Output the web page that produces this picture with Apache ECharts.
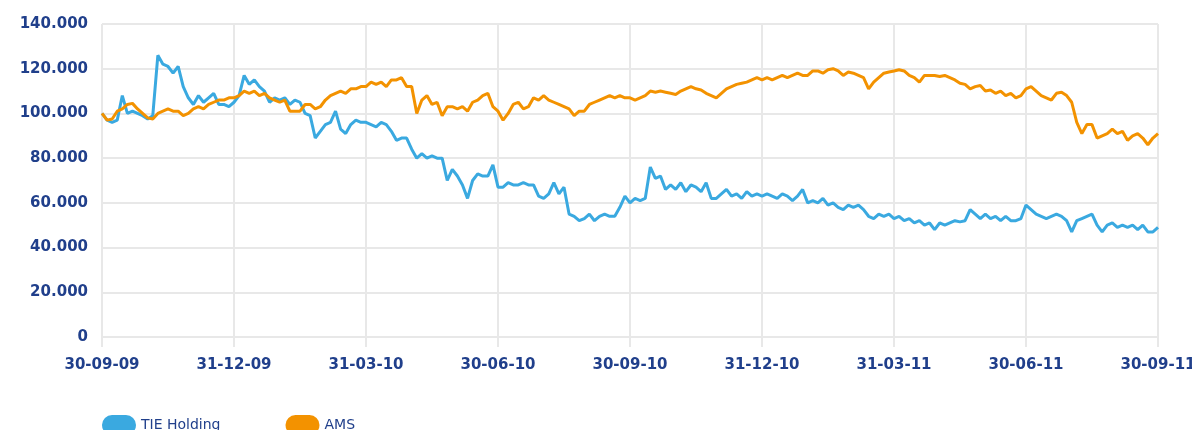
<!DOCTYPE html>
<html>
<head>
<meta charset="utf-8">
<script src="https://cdn.jsdelivr.net/npm/echarts@6/dist/echarts.min.js"></script>
<style>
  html, body { margin: 0; padding: 0; background: #fff; }
  #chart { width: 1192px; height: 430px; }
</style>
</head>
<body>
<div id="chart"></div>
<script>
// quarter tick labels, one every 26 half-week steps
var tickLabels = ['30-09-09', '31-12-09', '31-03-10', '30-06-10', '30-09-10', '31-12-10', '31-03-11', '30-06-11', '30-09-11'];
var seriesNames = ['TIE Holding', 'AMS'];

// values in thousands, one per half week
var tieValues = [
  100, 97, 96, 97, 108, 100, 101, 100, 99, 97.5, 99, 126, 122, 121, 118, 121, 112, 107, 104, 108,
  105, 107, 109, 104, 104, 103, 105, 108, 117, 113, 115, 112, 110, 105, 107, 106, 107, 104, 106, 105,
  100, 99, 89, 92, 95, 96, 101, 93, 91, 95, 97, 96, 96, 95, 94, 96, 95, 92, 88, 89,
  89, 84, 80, 82, 80, 81, 80, 80, 70, 75, 72, 68, 62, 70, 73, 72, 72, 77, 67, 67,
  69, 68, 68, 69, 68, 68, 63, 62, 64, 69, 64, 67, 55, 54, 52, 53, 55, 52, 54, 55,
  54, 54, 58, 63, 60, 62, 61, 62, 76, 71, 72, 66, 68, 66, 69, 65, 68, 67, 65, 69,
  62, 62, 64, 66, 63, 64, 62, 65, 63, 64, 63, 64, 63, 62, 64, 63, 61, 63, 66, 60,
  61, 60, 62, 59, 60, 58, 57, 59, 58, 59, 57, 54, 53, 55, 54, 55, 53, 54, 52, 53,
  51, 52, 50, 51, 48, 51, 50, 51, 52, 51.5, 52, 57, 55, 53, 55, 53, 54, 52, 54, 52,
  52, 53, 59, 57, 55, 54, 53, 54, 55, 54, 52, 47, 52, 53, 54, 55, 50, 47, 50, 51,
  49, 50, 49, 50, 48, 50, 47, 47, 49
];
var amsValues = [
  100, 97, 97.5, 101, 102, 104, 104.5, 102, 100, 98, 97.5, 100, 101, 102, 101, 101, 99, 100, 102, 103,
  102, 104, 105, 106, 106, 107, 107, 108, 110, 109, 110, 108, 109, 107, 106, 105, 106, 101, 101, 101,
  104, 104, 102, 103, 106, 108, 109, 110, 109, 111, 111, 112, 112, 114, 113, 114, 112, 115, 115, 116,
  112, 112, 100, 106, 108, 104, 105, 99, 103, 103, 102, 103, 101, 105, 106, 108, 109, 103, 101, 97,
  100, 104, 105, 102, 103, 107, 106, 108, 106, 105, 104, 103, 102, 99, 101, 101, 104, 105, 106, 107,
  108, 107, 108, 107, 107, 106, 107, 108, 110, 109.5, 110, 109.5, 109, 108.5, 110, 111, 112, 111, 110.5, 109,
  108, 107, 109, 111, 112, 113, 113.5, 114, 115, 116, 115, 116, 115, 116, 117, 116, 117, 118, 117, 117,
  119, 119, 118, 119.5, 120, 119, 117, 118.5, 118, 117, 116, 111, 114, 116, 118, 118.5, 119, 119.5, 119, 117,
  116, 114, 117, 117, 117, 116.5, 117, 116, 115, 113.5, 113, 111, 112, 112.5, 110, 110.5, 109, 110, 108, 109,
  107, 108, 111, 112, 110, 108, 107, 106, 109, 109.5, 108, 105, 96, 91, 95, 95, 89, 90, 91, 93,
  91, 92, 88, 90, 91, 89, 86, 89, 91
];

var steps = [];
for (var i = 0; i < tieValues.length; i++) {
  steps.push(String(i));
}

function formatThousands(v) {
  return String(v).replace(/\B(?=(\d{3})+(?!\d))/g, '.');
}

var axisColor = '#203f8b';
var gridColor = '#e8e8e8';

var myChart = echarts.init(document.getElementById('chart'));

var option = {
  animation: false,
  color: ['#3aa9e0', '#f39200'],
  grid: {
    left: 102,
    right: 34,
    top: 24,
    bottom: 93,
    containLabel: false,
    outerBoundsMode: 'none'
  },
  legend: {
    data: seriesNames,
    left: 97,
    top: 410,
    itemWidth: 34,
    itemHeight: 20,
    itemGap: 65,
    icon: 'path://M10,0 H24 A10,10 0 0 1 24,20 H10 A10,10 0 0 1 10,0 Z',
    textStyle: {
      color: axisColor,
      fontFamily: 'DejaVu Sans',
      fontSize: 14
    }
  },
  xAxis: {
    type: 'category',
    boundaryGap: false,
    data: steps,
    axisLine: { show: true, lineStyle: { color: gridColor, width: 2 } },
    axisTick: { show: true, interval: 25, length: 10, lineStyle: { color: gridColor, width: 2 } },
    splitLine: { show: true, interval: 25, lineStyle: { color: gridColor, width: 2 } },
    axisLabel: {
      interval: 25,
      margin: 21,
      color: axisColor,
      fontFamily: 'DejaVu Sans',
      fontWeight: 'bold',
      fontSize: 15,
      formatter: function (v, idx) {
        return tickLabels[Math.round(idx / 26)];
      }
    }
  },
  yAxis: {
    type: 'value',
    min: 0,
    max: 140000,
    interval: 20000,
    axisLine: { show: false },
    axisTick: { show: false },
    splitLine: { lineStyle: { color: gridColor, width: 2 } },
    axisLabel: {
      margin: 14,
      color: axisColor,
      fontFamily: 'DejaVu Sans',
      fontWeight: 'bold',
      fontSize: 15,
      formatter: formatThousands
    }
  },
  series: [
    {
      name: seriesNames[0],
      type: 'line',
      showSymbol: false,
      lineStyle: { width: 3 },
      data: tieValues.map(function (v) { return v * 1000; })
    },
    {
      name: seriesNames[1],
      type: 'line',
      showSymbol: false,
      lineStyle: { width: 3 },
      data: amsValues.map(function (v) { return v * 1000; })
    }
  ]
};

myChart.setOption(option);
</script>
</body>
</html>
